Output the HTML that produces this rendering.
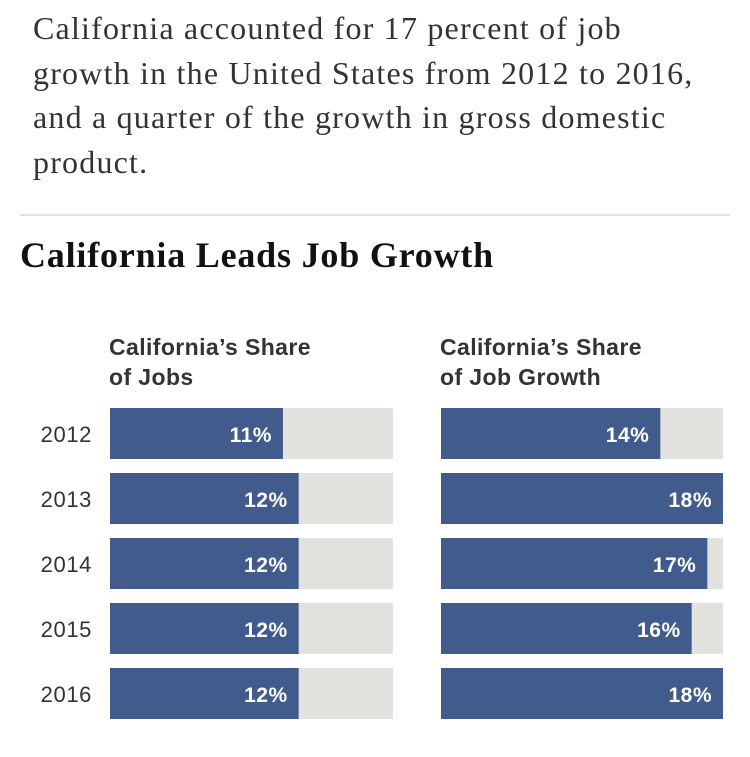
<!DOCTYPE html>
<html><head><meta charset="utf-8"><style>
body{margin:0;width:750px;height:757px;background:#fff;position:relative;overflow:hidden;font-family:"Liberation Sans",sans-serif}
#intro{position:absolute;left:33px;top:6px;width:720px;font-family:"Liberation Serif",serif;font-size:32px;letter-spacing:1.2px;line-height:44.5px;color:#333;white-space:nowrap}
#rule{position:absolute;left:20px;top:214px;width:710px;height:2px;background:#e2e2e2}
#title{position:absolute;left:20px;top:234px;font-family:"Liberation Serif",serif;font-weight:bold;font-size:36px;color:#111;letter-spacing:0.8px}
svg{position:absolute;left:0;top:0}
</style></head><body>
<div id="intro">California accounted for 17 percent of job<br>growth in the United States from 2012 to 2016,<br>and a quarter of the growth in gross domestic<br>product.</div>
<div id="rule"></div>
<div id="title">California Leads Job Growth</div>
<svg id="chart" width="750" height="757"></svg>
<script>
const years=["2012","2013","2014","2015","2016"];
const jobsShare=[11,12,12,12,12];
const growthShare=[14,18,17,16,18];
const maxVal=18;
const svg=document.getElementById('chart');
const NS='http://www.w3.org/2000/svg';
function mk(t,a){const e=document.createElementNS(NS,t);for(const k in a)e.setAttribute(k,a[k]);svg.appendChild(e);return e;}
const rowY=i=>408+i*65;
const barH=51;
const panels=[{x0:110,w:283,vals:jobsShare,t1:"California’s Share",t2:"of Jobs",n:"jobs"},{x0:441,w:282,vals:growthShare,t1:"California’s Share",t2:"of Job Growth",n:"growth"}];
panels.forEach(p=>{
  const sx=v=>p.w*v/maxVal;
  let t=mk('text',{x:p.x0-1,y:355,'font-size':23,'font-weight':'bold',fill:'#333','letter-spacing':0.4,'font-family':'Liberation Sans, sans-serif'});t.textContent=p.t1;
  
  t=mk('text',{x:p.x0-1,y:385,'font-size':23,'font-weight':'bold',fill:'#333','letter-spacing':0.4,'font-family':'Liberation Sans, sans-serif'});t.textContent=p.t2;
  
  p.vals.forEach((v,i)=>{
    let r=mk('rect',{x:p.x0,y:rowY(i),width:p.w,height:barH,fill:'#e4e2de'});
    
    
    r=mk('rect',{x:p.x0,y:rowY(i),width:sx(v),height:barH,fill:'#415b8d'});
    
    
    const l=mk('text',{x:p.x0+sx(v)-11,y:rowY(i)+34,'text-anchor':'end','font-size':21,'font-weight':'bold',fill:'#fff','letter-spacing':0.5,'font-family':'Liberation Sans, sans-serif'});
    l.textContent=v+'%';
    
    
  });
});
years.forEach((y,i)=>{
  const t=mk('text',{x:92,y:rowY(i)+34,'text-anchor':'end','font-size':22,fill:'#333','letter-spacing':0.6,'font-family':'Liberation Sans, sans-serif'});
  t.textContent=y;
  
  
});
</script>
</body></html>
